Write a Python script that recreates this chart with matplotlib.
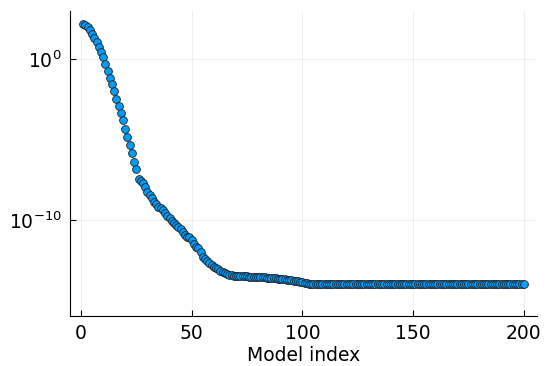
import matplotlib
matplotlib.use('Agg')
import matplotlib.pyplot as plt
import numpy as np

# log10 of the value for each model
log_values = [
    2.17, 2.10, 2.00, 1.82, 1.60, 1.35, 1.06, 0.76, 0.43, 0.14,
    -0.27, -0.73, -1.14, -1.55, -1.97, -2.47, -2.88, -3.34, -3.79, -4.33,
    -4.83, -5.36, -5.82, -6.40, -6.85, -7.47, -7.56, -7.72, -7.93, -8.24,
    -8.45, -8.65, -8.86, -9.01, -9.17, -9.27, -9.38, -9.58, -9.75, -9.89,
    -10.04, -10.17, -10.31, -10.42, -10.54, -10.73, -10.93, -11.04, -11.07, -11.24,
    -11.49, -11.66, -11.76, -11.97, -12.32, -12.44, -12.53, -12.69, -12.80, -12.90,
    -13.00, -13.06, -13.15, -13.21, -13.27, -13.33, -13.40, -13.44, -13.46, -13.47,
    -13.48, -13.49, -13.49, -13.50, -13.50, -13.51, -13.51, -13.52, -13.52, -13.53,
    -13.54, -13.55, -13.56, -13.57, -13.58, -13.59, -13.60, -13.62, -13.64, -13.66,
    -13.68, -13.69, -13.70, -13.72, -13.74, -13.76, -13.77, -13.79, -13.82, -13.86,
    -13.90, -13.93, -13.95, -13.96, -13.97, -13.98, -13.99, -14.00, -14.00, -14.00,
    -14.00, -14.00, -14.00, -14.00, -14.00, -14.00, -14.00, -14.00, -14.00, -14.00,
    -14.00, -14.00, -14.00, -14.00, -14.00, -14.00, -14.00, -14.00, -14.00, -14.00,
    -14.00, -14.00, -14.00, -14.00, -14.00, -14.00, -14.00, -14.00, -14.00, -14.00,
    -14.00, -14.00, -14.00, -14.00, -14.00, -14.00, -14.00, -14.00, -14.00, -14.00,
    -14.00, -14.00, -14.00, -14.00, -14.00, -14.00, -14.00, -14.00, -14.00, -14.00,
    -14.00, -14.00, -14.00, -14.00, -14.00, -14.00, -14.00, -14.00, -14.00, -14.00,
    -14.00, -14.00, -14.00, -14.00, -14.00, -14.00, -14.00, -14.00, -14.00, -14.00,
    -14.00, -14.00, -14.00, -14.00, -14.00, -14.00, -14.00, -14.00, -14.00, -14.00,
    -14.00, -14.00, -14.00, -14.00, -14.00, -14.00, -14.00, -14.00, -14.00, -14.00,
]
model_index = np.arange(1, len(log_values) + 1)
values = 10.0 ** np.array(log_values)

x_ticks = [0, 50, 100, 150, 200]
y_ticks = [1e0, 1e-10]
y_tick_labels = [r'$10^{0}$', r'$10^{-10}$']

fig = plt.figure(figsize=(5.48, 3.66), dpi=100)
ax = fig.add_axes([70 / 548, 1 - 316 / 366, 467 / 548, 305 / 366])

ax.scatter(model_index, values, s=5.6 ** 2, color='#009AFA',
           edgecolors='#202020', linewidths=0.6, zorder=3)

ax.set_yscale('log')
ax.set_xlim(-4.97, 205.97)
ax.set_ylim(10 ** -15.96, 10 ** 3.0)

ax.set_xticks(x_ticks)
ax.set_yticks(y_ticks)
ax.set_yticklabels(y_tick_labels)
ax.yaxis.set_minor_locator(matplotlib.ticker.NullLocator())
ax.tick_params(direction='in', length=4, width=0.8, labelsize=13.5, pad=6)
ax.grid(True, color='black', alpha=0.07, linewidth=0.6)
ax.set_axisbelow(True)

for side in ('top', 'right'):
    ax.spines[side].set_visible(False)

ax.set_xlabel('Model index', fontsize=13.5, labelpad=2)

fig.savefig('out.png', dpi=100)
